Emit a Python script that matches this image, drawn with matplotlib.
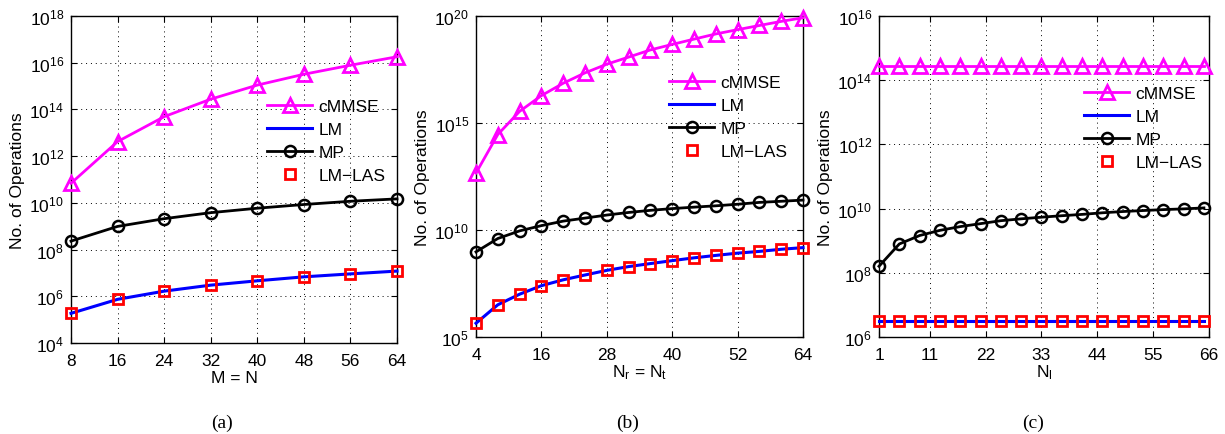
import matplotlib
matplotlib.use('Agg')
import matplotlib.pyplot as plt
from matplotlib.ticker import LogFormatterMathtext, FixedLocator, NullLocator

plt.rcParams['font.family'] = ['Liberation Sans', 'DejaVu Sans']
plt.rcParams['mathtext.fontset'] = 'custom'
plt.rcParams['mathtext.rm'] = 'Liberation Sans'
plt.rcParams['mathtext.default'] = 'regular'

# ---- data ----
# (a) M = N
x_a = [8, 16, 24, 32, 40, 48, 56, 64]
cmmse_a = [6.9e10, 4.2e12, 4.9e13, 2.75e14, 1.1e15, 3.2e15, 7.8e15, 1.8e16]
mp_a = [2.3e8, 9.8e8, 2.1e9, 3.8e9, 5.9e9, 8.5e9, 1.17e10, 1.48e10]
lm_a = [1.86e5, 7.4e5, 1.66e6, 3.0e6, 4.6e6, 6.8e6, 9.1e6, 1.2e7]

# (b) Nr = Nt
x_b = [4, 8, 12, 16, 20, 24, 28, 32, 36, 40, 44, 48, 52, 56, 60, 64]
cmmse_b = [4.6e12, 2.9e14, 3.5e15, 1.9e16, 7.2e16, 2.2e17, 5.6e17, 1.2e18,
           2.6e18, 4.7e18, 8.3e18, 1.45e19, 2.3e19, 3.6e19, 5.6e19, 8.3e19]
mp_b = [9.5e8, 4.0e9, 9.1e9, 1.6e10, 2.6e10, 3.6e10, 5.0e10, 6.6e10,
        8.3e10, 1.0e11, 1.17e11, 1.35e11, 1.6e11, 1.95e11, 2.2e11, 2.5e11]
lm_b = [4.4e5, 3.2e6, 1.0e7, 2.5e7, 4.7e7, 7.9e7, 1.3e8, 1.95e8,
        2.7e8, 3.7e8, 5.0e8, 6.5e8, 8.3e8, 1.0e9, 1.26e9, 1.5e9]

# (c) Nl
x_c = [1, 5, 9, 13, 17, 21, 25, 29, 33, 37, 41, 45, 49, 53, 57, 61, 65]
cmmse_c = [2.75e14] * 17
mp_c = [1.6e8, 7.9e8, 1.45e9, 2.1e9, 2.75e9, 3.4e9, 4.2e9, 4.8e9, 5.4e9,
        6.0e9, 6.6e9, 7.4e9, 8.1e9, 8.7e9, 9.3e9, 9.8e9, 1.05e10]
lm_c = [3.2e6] * 17

panels = [
    dict(x=x_a, cm=cmmse_a, mp=mp_a, lm=lm_a, xt=[8, 16, 24, 32, 40, 48, 56, 64],
         xlim=(8, 64), ylim=(1e4, 1e18), yt=[1e4, 1e6, 1e8, 1e10, 1e12, 1e14, 1e16, 1e18],
         xlabel='M = N', cap='(a)', rect=[71, 17, 397, 344], leg=(267, 100),
         xl_y=379, cap_x=222),
    dict(x=x_b, cm=cmmse_b, mp=mp_b, lm=lm_b, xt=[4, 16, 28, 40, 52, 64],
         xlim=(4, 64), ylim=(1e5, 1e20), yt=[1e5, 1e10, 1e15, 1e20],
         xlabel='$N_r$ = $N_t$', cap='(b)', rect=[476, 17, 803, 338], leg=(669, 76),
         xl_y=373, cap_x=628),
    dict(x=x_c, cm=cmmse_c, mp=mp_c, lm=lm_c, xt=[1, 11, 22, 33, 44, 55, 66],
         xlim=(1, 66), ylim=(1e6, 1e16), yt=[1e6, 1e8, 1e10, 1e12, 1e14, 1e16],
         xlabel='$N_l$', cap='(c)', rect=[879, 17, 1209, 338], leg=(1084, 87),
         xl_y=373, cap_x=1033),
]

W, H = 1225, 435
fig = plt.figure(figsize=(W / 100, H / 100), dpi=100)

for p in panels:
    l, t, r, b = p['rect']
    ax = fig.add_axes([l / W, 1 - b / H, (r - l) / W, (b - t) / H])
    ax.set_yscale('log')
    ax.plot(p['x'], p['cm'], color='magenta', lw=2, marker='^', ms=10,
            mfc='none', mec='magenta', mew=2, label='cMMSE', clip_on=False, zorder=3)
    ax.plot(p['x'], p['lm'], color='blue', lw=2.2, label='LM', clip_on=False, zorder=3)
    ax.plot(p['x'], p['mp'], color='black', lw=2, marker='o', ms=8,
            mfc='none', mec='black', mew=1.8, label='MP', clip_on=False, zorder=3)
    ax.plot(p['x'], p['lm'], ls='none', marker='s', ms=7, mfc='none',
            mec='red', mew=2, label='LM\u2212LAS', clip_on=False, zorder=4)

    ax.set_xlim(*p['xlim'])
    ax.set_ylim(*p['ylim'])
    ax.xaxis.set_major_locator(FixedLocator(p['xt']))
    ax.yaxis.set_major_locator(FixedLocator(p['yt']))
    ax.yaxis.set_minor_locator(NullLocator())
    ax.yaxis.set_major_formatter(LogFormatterMathtext())
    ax.tick_params(direction='in', length=4, width=0.8, labelsize=12.5,
                   top=True, right=True, pad=5)
    ax.tick_params(axis='x', pad=7)
    ax.grid(True, which='major', ls=(0, (1, 4)), color='black', lw=0.7)
    for s in ax.spines.values():
        s.set_linewidth(1)

    ax.set_ylabel('No. of Operations', fontsize=12.5, labelpad=3)
    fig.text(((l + r) / 2) / W, 1 - p['xl_y'] / H, p['xlabel'], fontsize=12.5,
             ha='center', va='center')
    fig.text(p['cap_x'] / W, 1 - 423 / H, p['cap'], fontsize=14,
             family='Liberation Serif', ha='center', va='center')

    lx, ly = p['leg']
    ax.legend(loc='upper left', bbox_to_anchor=(lx / W, 1 - ly / H),
              bbox_transform=fig.transFigure, frameon=False, fontsize=12.5,
              borderpad=0, handlelength=2.6, handletextpad=0.35,
              labelspacing=0.45, borderaxespad=0)

fig.savefig('out.png', dpi=100)
